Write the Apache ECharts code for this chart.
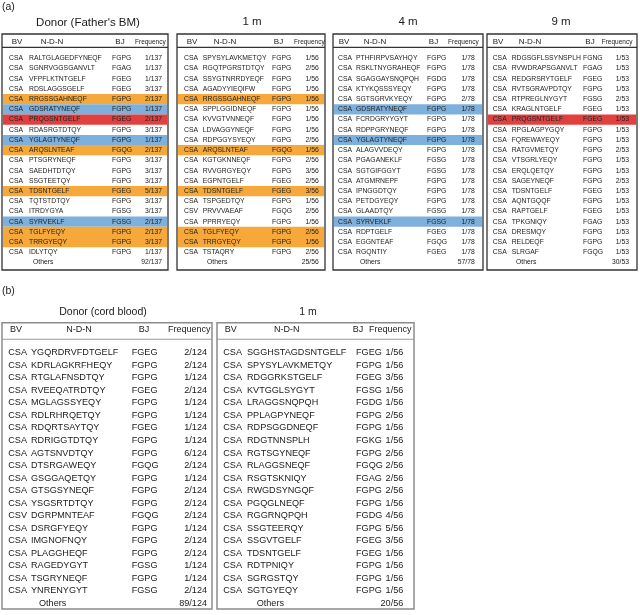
<!DOCTYPE html>
<html><head><meta charset="utf-8">
<script src="https://cdn.jsdelivr.net/npm/echarts@6/dist/echarts.min.js"></script>
<style>html,body{margin:0;padding:0;background:#fff}#c{width:640px;height:615px}</style>
</head><body><div id="c"></div>
<script>
// ================= DATA =================
const panelLabels = ["(a)", "(b)"];
const colHeaders = ["BV", "N-D-N", "BJ", "Frequency"];
const othersLabel = "Others";

// (a) Donor (Father's BM)
const a1Title = "Donor (Father's BM)";
const a1BV = ["CSA","CSA","CSA","CSA","CSA","CSA","CSA","CSA","CSA","CSA","CSA","CSA","CSA","CSA","CSA","CSA","CSA","CSA","CSA","CSA"];
const a1NDN = ["RALTGLAGEDFYNEQF","SGNRVGGSGANVLT","VFPFLKTNTGELF","RDSLAGGSGELF","RRGSSGAHNEQF","GDSRATYNEQF","PRQGSNTGELF","RDASRGTDTQY","YGLAGTYNEQF","ARQSLNTEAF","PTSGRYNEQF","SAEDHTDTQY","SSGTEETQY","TDSNTGELF","TQTSTDTQY","ITRDYGYA","SYRVEKLF","TGLFYEQY","TRRGYEQY","IDLYTQY"];
const a1BJ = ["FGPG","FGAG","FGEG","FGEG","FGPG","FGPG","FGEG","FGPG","FGPG","FGQG","FGPG","FGPG","FGPG","FGEG","FGPG","FGSG","FGSG","FGPG","FGPG","FGPG"];
const a1Freq = ["1/137","1/137","1/137","3/137","2/137","1/137","2/137","3/137","1/137","2/137","3/137","3/137","3/137","5/137","3/137","3/137","2/137","2/137","3/137","1/137"];
const a1Others = "92/137";
const a1Shared = ["","","","","O","B","R","","B","O","","","","O","","","B","O","O",""];

// (a) 1 m
const a2Title = "1 m";
const a2BV = ["CSA","CSA","CSA","CSA","CSA","CSA","CSA","CSA","CSA","CSA","CSA","CSA","CSA","CSA","CSA","CSV","CSA","CSA","CSA","CSA"];
const a2NDN = ["SPYSYLAVKMETQY","RGQTPGRSTDTQY","SSYGTNRRDYEQF","AGADYYIEQIFW","RRGSSGAHNEQF","SPPLGGIDNEQF","KVVGTVNNEQF","LDVAGGYNEQF","RDPGGYSYEQY","ARQSLNTEAF","KGTGKNNEQF","RVVGRGYEQY","EGPNTGELF","TDSNTGELF","TSPGEDTQY","PRVVVAEAF","PPRRYEQY","TGLFYEQY","TRRGYEQY","TSTAQRY"];
const a2BJ = ["FGPG","FGPG","FGPG","FGPG","FGPG","FGPG","FGPG","FGPG","FGPG","FGQG","FGPG","FGPG","FGEG","FGEG","FGPG","FGQG","FGPG","FGPG","FGPG","FGPG"];
const a2Freq = ["1/56","2/56","1/56","1/56","1/56","1/56","1/56","1/56","2/56","1/56","2/56","3/56","2/56","3/56","1/56","2/56","1/56","2/56","1/56","2/56"];
const a2Others = "25/56";
const a2Shared = ["","","","","O","","","","","O","","","","O","","","","O","O",""];

// (a) 4 m
const a3Title = "4 m";
const a3BV = ["CSA","CSA","CSA","CSA","CSA","CSA","CSA","CSA","CSA","CSA","CSA","CSA","CSA","CSA","CSA","CSA","CSA","CSA","CSA","CSA"];
const a3NDN = ["PTHFIRPVSAYHQY","RSKLTNYGRAHEQF","SGAGGAYSNQPQH","KTYKQSSSYEQY","SGTSGRVKYEQY","GDSRATYNEQF","FCRDGRYYGYT","RDPPGRYNEQF","YGLAGTYNEQF","ALAGVVDEQY","PGAGANEKLF","SGTGIFGGYT","ATGMRNEPF","IPNGGDTQY","PETDGYEQY","GLAADTQY","SYRVEKLF","RDPTGELF","EGGNTEAF","RGQNTIY"];
const a3BJ = ["FGPG","FGPG","FGDG","FGPG","FGPG","FGPG","FGPG","FGPG","FGPG","FGPG","FGSG","FGSG","FGPG","FGPG","FGPG","FGSG","FGSG","FGEG","FGQG","FGEG"];
const a3Freq = ["1/78","1/78","1/78","1/78","2/78","1/78","1/78","1/78","1/78","1/78","1/78","1/78","1/78","1/78","1/78","1/78","1/78","1/78","1/78","1/78"];
const a3Others = "57/78";
const a3Shared = ["","","","","","B","","","B","","","","","","","","B","","",""];

// (a) 9 m
const a4Title = "9 m";
const a4BV = ["CSA","CSA","CSA","CSA","CSA","CSA","CSA","CSA","CSA","CSA","CSA","CSA","CSA","CSA","CSA","CSA","CSA","CSA","CSA","CSA"];
const a4NDN = ["RDGSGFLSSYNSPLH","RVWDRAPSGANVLT","REDGRSRYTGELF","RVTSGRAVPDTQY","RTPREGLNYGYT","KRAGLNTGELF","PRQGSNTGELF","RPGLAGPYGQY","FQREWAYEQY","RATGVMETQY","VTSGRLYEQY","ERQLQETQY","SAGEYNEQF","TDSNTGELF","AQNTGQQF","RAPTGELF","TPKGNIQY","DRESMQY","RELDEQF","SLRGAF"];
const a4BJ = ["FGNG","FGAG","FGEG","FGPG","FGSG","FGEG","FGEG","FGPG","FGPG","FGPG","FGPG","FGPG","FGPG","FGEG","FGPG","FGEG","FGAG","FGPG","FGPG","FGQG"];
const a4Freq = ["1/53","1/53","1/53","1/53","2/53","1/53","1/53","1/53","1/53","2/53","1/53","1/53","2/53","1/53","1/53","1/53","1/53","1/53","1/53","1/53"];
const a4Others = "30/53";
const a4Shared = ["","","","","","","R","","","","","","","","","","","","",""];

// (b) Donor (cord blood)
const b1Title = "Donor (cord blood)";
const b1BV = ["CSA","CSA","CSA","CSA","CSA","CSA","CSA","CSA","CSA","CSA","CSA","CSA","CSA","CSV","CSA","CSA","CSA","CSA","CSA","CSA"];
const b1NDN = ["YGQRDRVFDTGELF","KDRLAGKRFHEQY","RTGLAFNSDTQY","RVEEQATRDTQY","MGLAGSSYEQY","RDLRHRQETQY","RDQRTSAYTQY","RDRIGGTDTQY","AGTSNVDTQY","DTSRGAWEQY","GSGGAQETQY","GTSGSYNEQF","YSGSRTDTQY","DGRPMNTEAF","DSRGFYEQY","IMGNOFNQY","PLAGGHEQF","RAGEDYGYT","TSGRYNEQF","YNRENYGYT"];
const b1BJ = ["FGEG","FGPG","FGPG","FGEG","FGPG","FGPG","FGEG","FGPG","FGPG","FGQG","FGPG","FGPG","FGPG","FGQG","FGPG","FGPG","FGPG","FGSG","FGPG","FGSG"];
const b1Freq = ["2/124","2/124","1/124","2/124","1/124","1/124","1/124","1/124","6/124","2/124","1/124","2/124","2/124","2/124","1/124","2/124","2/124","1/124","1/124","2/124"];
const b1Others = "89/124";
const b1Shared = ["","","","","","","","","","","","","","","","","","","",""];

// (b) 1 m
const b2Title = "1 m";
const b2BV = ["CSA","CSA","CSA","CSA","CSA","CSA","CSA","CSA","CSA","CSA","CSA","CSA","CSA","CSA","CSA","CSA","CSA","CSA","CSA","CSA"];
const b2NDN = ["SGGHSTAGDSNTGELF","SPYSYLAVKMETQY","RDGGRKSTGELF","KVTGGLSYGYT","LRAGGSNQPQH","PPLAGPYNEQF","RDPSGGDNEQF","RDGTNNSPLH","RGTSGYNEQF","RLAGGSNEQF","RSGTSKNIQY","RWGDSYNGQF","PGQGLNEQF","RGGRNQPQH","SSGTEERQY","SSGVTGELF","TDSNTGELF","RDTPNIQY","SGRGSTQY","SGTGYEQY"];
const b2BJ = ["FGEG","FGPG","FGEG","FGSG","FGDG","FGPG","FGPG","FGKG","FGPG","FGQG","FGAG","FGPG","FGPG","FGDG","FGPG","FGEG","FGEG","FGPG","FGPG","FGPG"];
const b2Freq = ["1/56","1/56","3/56","1/56","1/56","2/56","1/56","1/56","2/56","2/56","2/56","2/56","1/56","4/56","5/56","3/56","1/56","1/56","1/56","1/56"];
const b2Others = "20/56";
const b2Shared = ["","","","","","","","","","","","","","","","","","","",""];

// ================= STYLE / LAYOUT =================
const FONT = '"Liberation Sans", Arial, Helvetica, sans-serif';
const sharedColors = { O: '#F6A83A', B: '#7DB0DC', R: '#E2403F' };
const styleA = { yMin: -2.38, yMax: 20.73, headerY: -1.62, lineY: -1.08, font: 6.8, hFont: 8, fFont: 6.5,
  border: '#333', borderW: 1.3, line: '#333', lineW: 1.3, text: '#222' };
const styleB = { yMin: -2.39, yMax: 20.44, headerY: -1.81, lineY: -1.07, font: 9.1, hFont: 9, fFont: 9,
  border: '#8c8c8c', borderW: 1.5, line: '#9a9a9a', lineW: 1, text: '#1a1a1a' };

const tables = [
  { title: a1Title, bv: a1BV, ndn: a1NDN, bj: a1BJ, freq: a1Freq, others: a1Others, shared: a1Shared, S: styleA,
    box: [2, 34, 166, 236], c: { bv: 7, ndn: 27, bj: 110, fr: 160, hBV: 15, hNDN: 50, hBJ: 118, hFr: 133, oth: 31 }, tx: 88, ty: 23 },
  { title: a2Title, bv: a2BV, ndn: a2NDN, bj: a2BJ, freq: a2Freq, others: a2Others, shared: a2Shared, S: styleA,
    box: [177, 34, 148, 236], c: { bv: 7, ndn: 25.7, bj: 95, fr: 141.7, hBV: 15, hNDN: 48, hBJ: 101.5, hFr: 117, oth: 30 }, tx: 252, ty: 22 },
  { title: a3Title, bv: a3BV, ndn: a3NDN, bj: a3BJ, freq: a3Freq, others: a3Others, shared: a3Shared, S: styleA,
    box: [333, 34, 150, 236], c: { bv: 5, ndn: 23, bj: 94, fr: 141.7, hBV: 11, hNDN: 42, hBJ: 100.5, hFr: 115, oth: 27 }, tx: 408, ty: 22 },
  { title: a4Title, bv: a4BV, ndn: a4NDN, bj: a4BJ, freq: a4Freq, others: a4Others, shared: a4Shared, S: styleA,
    box: [487, 34, 150, 236], c: { bv: 5.7, ndn: 24.7, bj: 96, fr: 142, hBV: 11, hNDN: 43, hBJ: 103, hFr: 114.7, oth: 29 }, tx: 561, ty: 22 },
  { title: b1Title, bv: b1BV, ndn: b1NDN, bj: b1BJ, freq: b1Freq, others: b1Others, shared: b1Shared, S: styleB,
    box: [2, 322.7, 210, 286.3], c: { bv: 6.3, ndn: 29, bj: 129.7, fr: 205, hBV: 14, hNDN: 77, hBJ: 142, hFr: 166, oth: 37 }, tx: 103, ty: 312, tFont: 10.5 },
  { title: b2Title, bv: b2BV, ndn: b2NDN, bj: b2BJ, freq: b2Freq, others: b2Others, shared: b2Shared, S: styleB,
    box: [217, 322.7, 197, 286.3], c: { bv: 6.3, ndn: 30, bj: 139, fr: 186.3, hBV: 13.7, hNDN: 69.7, hBJ: 141, hFr: 152, oth: 39.7 }, tx: 308, ty: 312, tFont: 10.5 }
];

const grids = [], xAxes = [], yAxes = [], series = [], graphics = [];

graphics.push({ type: 'text', x: 2, y: 7, style: { text: panelLabels[0], font: '10.5px ' + FONT, fill: '#222', textAlign: 'left', textVerticalAlign: 'middle' } });
graphics.push({ type: 'text', x: 2, y: 291, style: { text: panelLabels[1], font: '10.5px ' + FONT, fill: '#222', textAlign: 'left', textVerticalAlign: 'middle' } });

tables.forEach((t, gi) => {
  const S = t.S, c = t.c, W = t.box[2];
  grids.push({ left: t.box[0], top: t.box[1], width: W, height: t.box[3], show: true,
    borderColor: S.border, borderWidth: S.borderW, backgroundColor: 'transparent', containLabel: false });
  xAxes.push({ type: 'value', gridIndex: gi, min: 0, max: W, show: false });
  yAxes.push({ type: 'value', gridIndex: gi, min: S.yMin, max: S.yMax, inverse: true, show: false });
  graphics.push({ type: 'text', x: t.tx, y: t.ty, style: { text: t.title, font: (t.tFont || 11.5) + 'px ' + FONT, fill: '#1a1a1a', textAlign: 'center', textVerticalAlign: 'middle' } });

  const data = [[0, S.headerY, -1]];
  t.ndn.forEach((s, i) => data.push([0, i, i]));
  data.push([0, t.ndn.length, -2]);

  series.push({
    type: 'custom', coordinateSystem: 'cartesian2d', xAxisIndex: gi, yAxisIndex: gi,
    data, clip: false, silent: true, animation: false,
    renderItem: (params, api) => {
      const idx = api.value(2), y = api.value(1);
      const X = v => api.coord([v, y])[0];
      const Y = api.coord([0, y])[1];
      const txt = (s, x, align, size) => ({ type: 'text', style: { text: s, x, y: Y, textAlign: align, textVerticalAlign: 'middle', font: size + 'px ' + FONT, fill: S.text } });
      const children = [];
      if (idx === -1) {
        const ly = api.coord([0, S.lineY])[1];
        children.push({ type: 'line', shape: { x1: X(0), y1: ly, x2: X(W), y2: ly }, style: { stroke: S.line, lineWidth: S.lineW } });
        children.push(txt(colHeaders[0], X(c.hBV), 'center', S.hFont));
        children.push(txt(colHeaders[1], X(c.hNDN), 'center', S.hFont));
        children.push(txt(colHeaders[2], X(c.hBJ), 'center', S.hFont));
        children.push(txt(colHeaders[3], X(c.hFr), 'left', S.fFont));
      } else if (idx === -2) {
        children.push(txt(othersLabel, X(c.oth), 'left', S.font));
        children.push(txt(t.others, X(c.fr), 'right', S.font));
      } else {
        const mk = t.shared[idx];
        if (mk) {
          const p0 = api.coord([0, y - 0.5]), p1 = api.coord([W, y + 0.5]);
          children.push({ type: 'rect', shape: { x: p0[0] + 1, y: Math.min(p0[1], p1[1]), width: p1[0] - p0[0] - 2, height: Math.abs(p1[1] - p0[1]) }, style: { fill: sharedColors[mk] } });
        }
        children.push(txt(t.bv[idx], X(c.bv), 'left', S.font));
        children.push(txt(t.ndn[idx], X(c.ndn), 'left', S.font));
        children.push(txt(t.bj[idx], X(c.bj), 'left', S.font));
        children.push(txt(t.freq[idx], X(c.fr), 'right', S.font));
      }
      return { type: 'group', children };
    }
  });
});

const chart = echarts.init(document.getElementById('c'), null, { renderer: 'canvas' });
chart.setOption({ animation: false, backgroundColor: '#fff', grid: grids, xAxis: xAxes, yAxis: yAxes, series, graphic: graphics });
</script>
</body></html>
